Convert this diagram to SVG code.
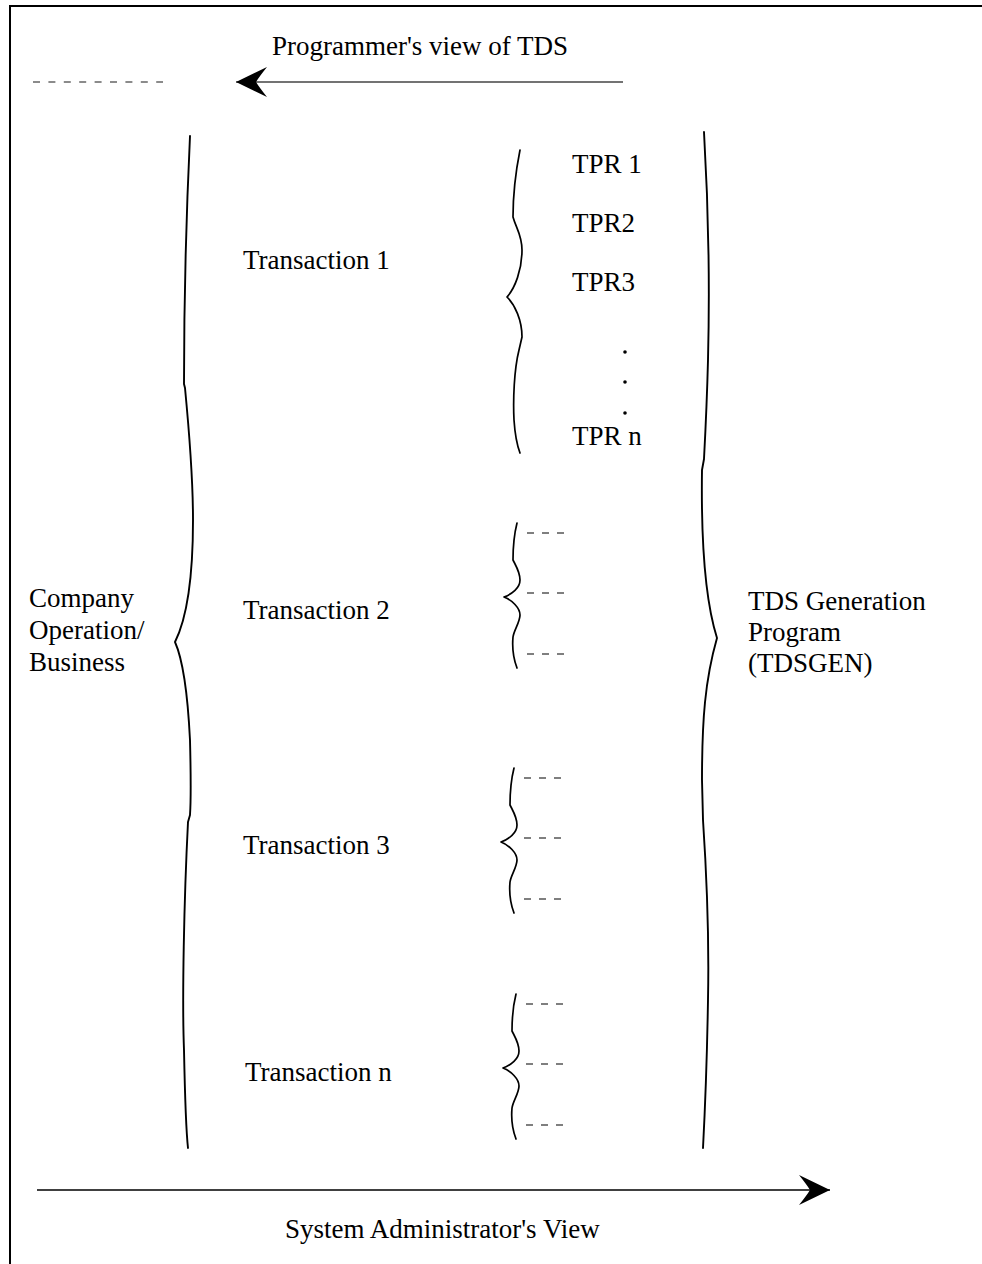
<svg xmlns="http://www.w3.org/2000/svg" width="982" height="1264" viewBox="0 0 982 1264">
<style>
text{font-family:"Liberation Serif","Times New Roman",serif;font-size:27px;fill:#000}
.brace{fill:none;stroke:#000;stroke-width:1.9;stroke-linecap:round;stroke-linejoin:round}
.sbrace{fill:none;stroke:#000;stroke-width:1.7;stroke-linecap:round;stroke-linejoin:round}
.dash{stroke:#555;stroke-width:1.4;stroke-dasharray:7 8}
.frame{fill:none;stroke:#000;stroke-width:2}
</style>
<defs>
<marker id="stealth" viewBox="-32 -16 34 32" refX="0" refY="0" markerWidth="34" markerHeight="32" markerUnits="userSpaceOnUse" orient="auto">
<path d="M0,0 L-31,-15 Q-23,-5 -20,0 Q-23,5 -31,15 Z" fill="#000"/>
</marker>
<g id="smallBrace">
<path class="sbrace" d="M13,-74 C10,-62 9,-49 9,-37 C12,-31 16,-25 16,-17 C16,-9 8,-3 0,0 C8,3 16,11 16,18 C16,25 10,33 9,40 C8,51 10,63 13,71"/>
<line class="dash" x1="23" y1="-64" x2="61" y2="-64"/>
<line class="dash" x1="23" y1="-4" x2="61" y2="-4"/>
<line class="dash" x1="23" y1="57" x2="61" y2="57"/>
</g>
</defs>
<rect width="982" height="1264" fill="#fff"/>
<path class="frame" d="M10,1264 L10,6 L990,6"/>

<g id="connectors">
<line x1="623" y1="82" x2="236" y2="82" stroke="#444" stroke-width="1.4" marker-end="url(#stealth)"/>
<line x1="33" y1="82" x2="163" y2="82" stroke="#666" stroke-width="1.3" stroke-dasharray="7 8.4"/>
<line x1="37" y1="1190" x2="830" y2="1190" stroke="#000" stroke-width="1.5" marker-end="url(#stealth)"/>
</g>

<g id="label-programmers-view"><text x="272" y="55">Programmer's view of TDS</text></g>
<g id="label-sysadmin-view"><text x="285" y="1238">System Administrator's View</text></g>

<g id="company">
<text x="29" y="607">Company</text>
<text x="29" y="639">Operation/</text>
<text x="29" y="671">Business</text>
<path class="brace" d="M190,136 C186,220 184,300 184,384 L185,388 C190,440 193,480 193,520 C193,580 186,620 175,642 C183,660 188,700 190,740 C191,780 191,800 190,815 L188,822 C184,900 182,1000 184,1050 C185,1100 186,1130 188,1148"/>
</g>

<g id="tdsgen">
<path class="brace" d="M704,132 C708,200 710,280 708,360 C707,400 705,440 704,459 L702,470 C701,540 705,600 717,638 C705,680 702,720 702,780 L703,820 C707,880 709,950 708,1000 C707,1060 705,1110 703,1148"/>
<text x="748" y="610">TDS Generation</text>
<text x="748" y="641">Program</text>
<text x="748" y="672">(TDSGEN)</text>
</g>

<g id="transaction1">
<text x="243" y="269">Transaction 1</text>
<path class="sbrace" d="M520,150 C515,175 513,195 513,217 C516,228 522,235 522,250 C522,270 515,288 507,297 C515,305 522,320 522,337 L519,350 C514,370 513,400 514,420 C515,435 517,445 520,453"/>
<text x="572" y="173">TPR 1</text>
<text x="572" y="232">TPR2</text>
<text x="572" y="291">TPR3</text>
<circle cx="625" cy="352" r="1.8"/>
<circle cx="625" cy="382" r="1.8"/>
<circle cx="625" cy="413" r="1.8"/>
<text x="572" y="445">TPR n</text>
</g>

<g id="transaction2">
<text x="243" y="619">Transaction 2</text>
<use href="#smallBrace" transform="translate(504,597)"/>
</g>

<g id="transaction3">
<text x="243" y="854">Transaction 3</text>
<use href="#smallBrace" transform="translate(501,842)"/>
</g>

<g id="transactionN">
<text x="245" y="1081">Transaction n</text>
<use href="#smallBrace" transform="translate(503,1068)"/>
</g>
</svg>
